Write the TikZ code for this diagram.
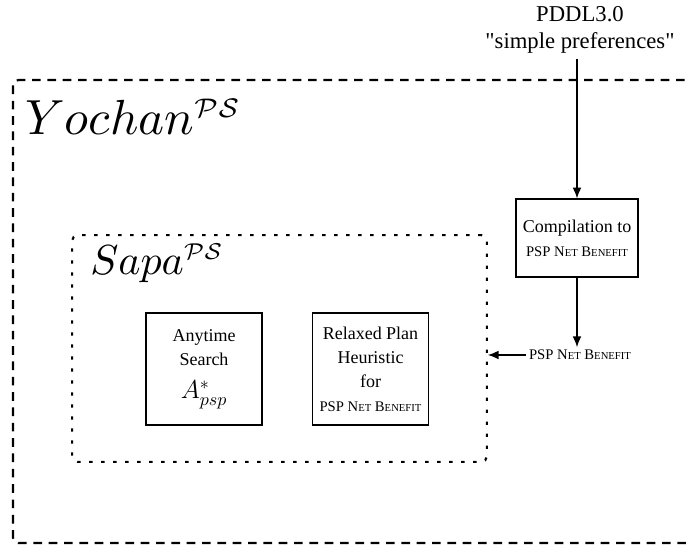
\documentclass[tikz,border=0pt]{standalone}
\usepackage{fontspec}
\setmainfont{Liberation Serif}
\newfontfamily\plainquotes[Ligatures=TeXOff]{Liberation Serif}
\usepackage{amsmath}
\usetikzlibrary{positioning,arrows.meta}
\newcommand{\smallcap}[1]{{\fontsize{8}{10}\selectfont #1}}
\newcommand{\pspnb}{PSP N\smallcap{ET} B\smallcap{ENEFIT}}
\newcommand{\pstag}{\scalebox{0.78}{$\scriptstyle\mathcal{PS}$}}
\tikzset{
  modbox/.style={draw, line width=0.9pt, align=center, font=\fontsize{13.5}{18}\selectfont},
  frame/.style={line width=1.6pt, rounded corners=4pt},
  >={Latex[length=8pt,width=6.5pt]}
}

\begin{document}
\begin{tikzpicture}[x=0.75pt,y=-0.75pt]
\useasboundingbox (0,0) rectangle (686,548);
%============ outer system
\draw[frame, dash pattern=on 6.5pt off 5pt] (700,80) -- (13,80) -- (13,543) -- (700,543);
\node[anchor=base west, inner sep=0pt] (yochan) at (25,135) {\scalebox{3.7}{\normalsize $Yochan^{\pstag}$}};
%============ planner
\node[frame, draw, dash pattern=on 2.5pt off 6.5pt, minimum width=311pt, minimum height=170pt] (sapa) at (279.5,348.5) {};
\node[anchor=base west, inner sep=0pt] (sapalbl) at (90,275) {\scalebox{3.15}{\normalsize $Sapa^{\pstag}$}};
\node[modbox, minimum width=87pt, minimum height=84pt] (search) at (204,369) {Anytime\\Search\\[7pt] \scalebox{1.35}{\Large $A^{*}_{psp}$}};
\node[modbox, minimum width=87pt, minimum height=84pt] (heur) at (370.5,369) {Relaxed Plan\\Heuristic\\for\\{\fontsize{11}{13}\selectfont\pspnb}};
%============ compilation
\node[modbox, minimum width=91.5pt, minimum height=58.5pt] (comp) at (577,238) {Compilation to\\{\fontsize{11}{13}\selectfont\pspnb}};
\node[align=center, font=\plainquotes\fontsize{17}{20}\selectfont, inner sep=2pt] (pddl) at (580,30) {PDDL3.0\\"simple preferences"};
\node[font=\fontsize{11}{13}\selectfont, inner sep=2pt] (psp) at (580,355) {\pspnb};
%==========
            \draw[->, line width=0.9pt] ([yshift=-2pt]pddl.south -| comp.north) -- (comp.north);
            \draw[->, line width=0.9pt] (comp.south) -- (comp.south |- psp.north);
            \draw[->, line width=0.9pt] (psp.west) -- (psp.west -| sapa.east);
\end{tikzpicture}
\end{document}
